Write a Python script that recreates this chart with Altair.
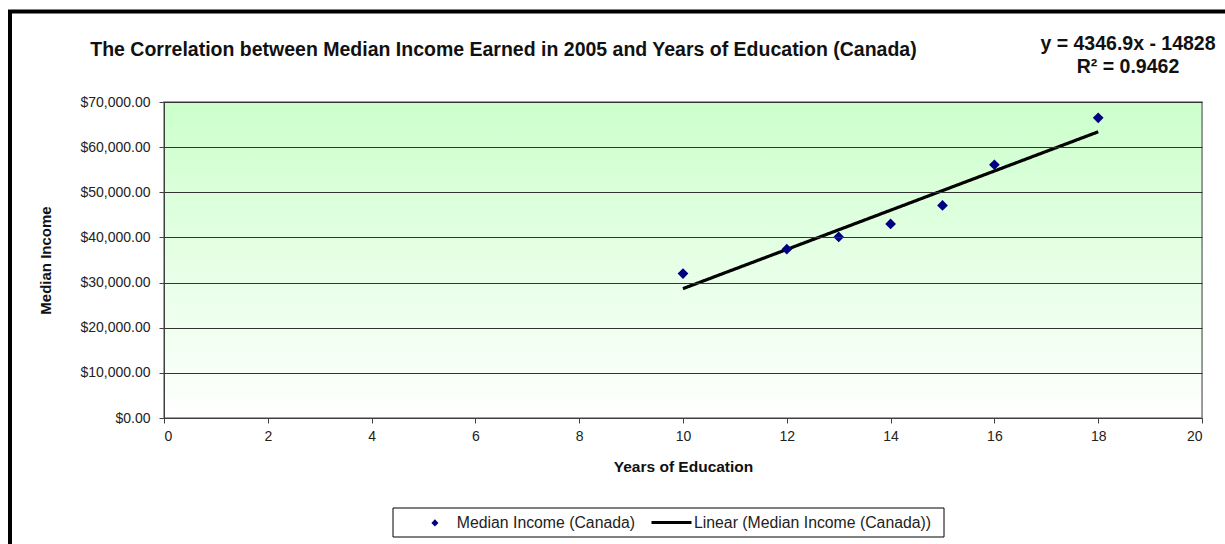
import altair as alt
import pandas as pd

years = [10, 12, 13, 14, 15, 16, 18]
income = [32000, 37400, 40100, 43000, 47100, 56100, 66500]
series_names = ["Median Income (Canada)", "Linear (Median Income (Canada))"]
y_ticks = [0, 10000, 20000, 30000, 40000, 50000, 60000, 70000]
x_ticks = [0, 2, 4, 6, 8, 10, 12, 14, 16, 18, 20]
equation = ["y = 4346.9x - 14828", "R² = 0.9462"]
title_text = "The Correlation between Median Income Earned in 2005 and Years of Education (Canada)"

W, H = 1038, 316
FONT = "Liberation Sans"

df = pd.DataFrame({"years": years, "income": income, "series": series_names[0]})
one = pd.DataFrame({"a": [0]})

xs = alt.X("years:Q", scale=alt.Scale(domain=[0, 20], nice=False),
           axis=alt.Axis(values=x_ticks, title="Years  of Education", grid=False,
                         labelFontSize=14, titleFontSize=15.5, titleFontWeight="bold",
                         titlePadding=16, labelPadding=6, tickSize=5, zindex=1,
                         domainColor="#404040", tickColor="#404040",
                         labelColor="#222", titleColor="#111"))
ys = alt.Y("income:Q", scale=alt.Scale(domain=[0, 70000], nice=False),
           axis=alt.Axis(values=y_ticks, format="$,.2f", title="Median  Income",
                         labelFontSize=14, titleFontSize=15, titleFontWeight="bold",
                         titlePadding=26, labelPadding=9, tickSize=5, zindex=1,
                         gridColor="#333333", gridWidth=1.2, gridOpacity=1,
                         domainColor="#404040", tickColor="#404040",
                         labelColor="#222", titleColor="#111"))

color = alt.Color("series:N",
                  scale=alt.Scale(domain=[series_names[0]], range=["#000080"]),
                  legend=alt.Legend(title=None, orient="none", direction="horizontal",
                                    legendX=263, legendY=413, labelFontSize=15.8,
                                    labelFont=FONT, labelColor="#222", labelLimit=400,
                                    padding=0, labelOffset=14, symbolSize=50,
                                    symbolType="diamond"))
dash = alt.StrokeDash("series:N",
                      scale=alt.Scale(domain=[series_names[1]], range=[[1, 0]]),
                      legend=alt.Legend(title=None, orient="none", direction="horizontal",
                                        legendX=486, legendY=399, labelFontSize=15.8,
                                        labelFont=FONT, labelColor="#222", labelLimit=400,
                                        padding=0, labelOffset=1, symbolSize=1600,
                                        symbolType="stroke", symbolStrokeColor="#000000",
                                        symbolStrokeWidth=3))

bg = alt.Chart(one).mark_rect(
    color=alt.LinearGradient(gradient="linear", x1=0, y1=0, x2=0, y2=1,
                             stops=[alt.GradientStop(color="#CCFFCC", offset=0),
                                    alt.GradientStop(color="#FFFFFF", offset=1)]),
    stroke="#808080", strokeWidth=1.5
).encode(x=alt.value(0), x2=alt.value(W), y=alt.value(0), y2=alt.value(H))

points = alt.Chart(df).mark_point(filled=True, size=115, opacity=1, shape="diamond").encode(
    x=xs, y=ys, color=color)

trend = alt.Chart(df).transform_regression("years", "income").transform_calculate(
    series="'" + series_names[1] + "'"
).mark_line(strokeWidth=3.2, color="black").encode(x="years:Q", y="income:Q", strokeDash=dash)

def label(txt, x, y, size, weight="bold", align="center"):
    return alt.Chart(one).mark_text(
        text=txt, font=FONT, fontSize=size, fontWeight=weight, color="#111",
        align=align, baseline="middle"
    ).encode(x=alt.value(x), y=alt.value(y))

title = label(title_text, 339.5, -52, 19.5)
eq1 = label(equation[0], 964, -58, 19.5)
eq2 = label(equation[1], 964, -35, 19.5)

legend_box = alt.Chart(one).mark_rect(fill=None, stroke="black", strokeWidth=1).encode(
    x=alt.value(229), x2=alt.value(780), y=alt.value(406), y2=alt.value(435))

frame_top = alt.Chart(one).mark_rule(color="black", strokeWidth=4).encode(
    x=alt.value(-156), x2=alt.value(W + 30), y=alt.value(-90.5))
frame_left = alt.Chart(one).mark_rule(color="black", strokeWidth=4).encode(
    x=alt.value(-154), y=alt.value(-92), y2=alt.value(H + 140))

chart = alt.layer(bg, trend, points, title, eq1, eq2, legend_box, frame_top, frame_left).properties(
    width=W, height=H,
    autosize=alt.AutoSizeParams(type="none"),
    padding={"left": 164, "top": 102, "right": 23, "bottom": 126},
).configure_view(stroke=None).configure_axis(
    labelFont=FONT, titleFont=FONT
).configure(background="white")

chart.save("out.html", embed_options={"renderer": "svg", "actions": False})
